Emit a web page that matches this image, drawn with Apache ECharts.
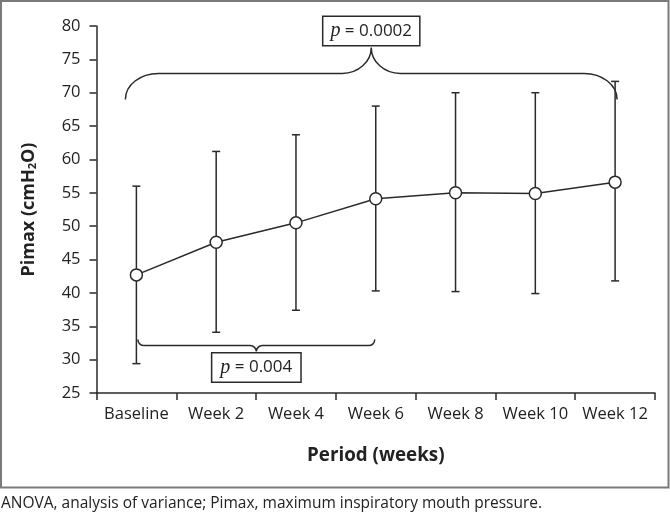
<!DOCTYPE html>
<html>
<head>
<meta charset="utf-8">
<script src="https://cdn.jsdelivr.net/npm/echarts@6/dist/echarts.min.js"></script>
<style>
html,body{margin:0;padding:0;background:#fff;}
#chart{width:670px;height:517px;}
</style>
</head>
<body>
<div id="chart"></div>
<script>
// ---- data ----
const categories = ['Baseline', 'Week 2', 'Week 4', 'Week 6', 'Week 8', 'Week 10', 'Week 12'];
const meanPimax = [42.7, 47.6, 50.5, 54.1, 55.0, 54.9, 56.6];
const upperPimax = [56.0, 61.2, 63.7, 68.0, 70.0, 70.0, 71.7];
const lowerPimax = [29.4, 34.1, 37.4, 40.3, 40.2, 39.9, 41.8];
const yTicks = [25, 30, 35, 40, 45, 50, 55, 60, 65, 70, 75, 80];
// brackets: category span, level (value at brace tips), p-value text
const braceFrom = [0, 0];
const braceTo = [6, 3];
const braceLevel = [69, 33];
const bracePValue = ['0.0002', '0.004'];
const caption = 'ANOVA, analysis of variance; Pimax, maximum inspiratory mouth pressure.';

const INK = '#2a2a2a';
const FONT = '"Open Sans", sans-serif';

const errData = categories.map((c, i) => [i, lowerPimax[i], upperPimax[i]]);
const braceData = braceFrom.map((f, i) => [f, braceTo[i], braceLevel[i]]);

const chart = echarts.init(document.getElementById('chart'));

function bracePath(xL, xR, y0, dir, h1, h2, rxEnd, rxMid) {
  const k = 0.5523;
  const yh = y0 + dir * h1;
  const yc = yh + dir * h2;
  const xm = (xL + xR) / 2;
  let p = '';
  p += 'M' + xL + ',' + y0;
  p += ' C' + xL + ',' + (y0 + dir * h1 * k) + ' ' + (xL + rxEnd * (1 - k)) + ',' + yh + ' ' + (xL + rxEnd) + ',' + yh;
  p += ' L' + (xm - rxMid) + ',' + yh;
  p += ' C' + (xm - rxMid * (1 - k)) + ',' + yh + ' ' + xm + ',' + (yh + dir * h2 * (1 - k)) + ' ' + xm + ',' + yc;
  p += ' M' + xm + ',' + yc;
  p += ' C' + xm + ',' + (yh + dir * h2 * (1 - k)) + ' ' + (xm + rxMid * (1 - k)) + ',' + yh + ' ' + (xm + rxMid) + ',' + yh;
  p += ' L' + (xR - rxEnd) + ',' + yh;
  p += ' C' + (xR - rxEnd * (1 - k)) + ',' + yh + ' ' + xR + ',' + (y0 + dir * h1 * k) + ' ' + xR + ',' + y0;
  return p;
}

const option = {
  animation: false,
  backgroundColor: '#fff',
  grid: { left: 96.5, right: 15, top: 26, bottom: 124, containLabel: false },
  xAxis: {
    type: 'category',
    data: categories,
    boundaryGap: true,
    axisLine: { lineStyle: { color: INK, width: 1.5 } },
    axisTick: { show: true, length: 7, interval: 0, lineStyle: { color: INK, width: 1.5 } },
    axisLabel: { color: '#222', fontSize: 16.5, fontFamily: FONT, margin: 13, interval: 0 },
    name: 'Period (weeks)',
    nameLocation: 'middle',
    nameGap: 53,
    nameTextStyle: { color: '#222', fontSize: 18.8, fontWeight: 'bold', fontFamily: FONT }
  },
  yAxis: {
    type: 'value',
    min: yTicks[0],
    max: yTicks[yTicks.length - 1],
    interval: yTicks[1] - yTicks[0],
    splitLine: { show: false },
    axisLine: { show: true, lineStyle: { color: INK, width: 1.5 } },
    axisTick: { show: true, length: 7, lineStyle: { color: INK, width: 1.5 } },
    axisLabel: { color: '#222', fontSize: 16.5, fontFamily: FONT, margin: 16 },
    name: '{b|Pimax (cmH}{s|2}{b|O)}',
    nameLocation: 'middle',
    nameRotate: 90,
    nameGap: 58,
    nameTextStyle: {
      color: '#222', fontFamily: FONT,
      rich: {
        b: { fontSize: 18, fontWeight: 'bold', fontFamily: FONT, color: '#222' },
        s: { fontSize: 11, fontWeight: 'bold', fontFamily: FONT, color: '#222', padding: [9, 0, 0, 0] }
      }
    }
  },
  series: [
    {
      name: 'SD',
      type: 'custom',
      z: 2,
      data: errData,
      encode: { x: 0, y: [1, 2] },
      renderItem: function (params, api) {
        const x = api.coord([api.value(0), api.value(1)])[0];
        const yLo = api.coord([api.value(0), api.value(1)])[1];
        const yHi = api.coord([api.value(0), api.value(2)])[1];
        const cw = 4;
        const st = { stroke: INK, lineWidth: 1.5, fill: 'none' };
        return {
          type: 'group',
          children: [
            { type: 'line', shape: { x1: x, y1: yLo, x2: x, y2: yHi }, style: st },
            { type: 'line', shape: { x1: x - cw, y1: yLo, x2: x + cw, y2: yLo }, style: st },
            { type: 'line', shape: { x1: x - cw, y1: yHi, x2: x + cw, y2: yHi }, style: st }
          ]
        };
      }
    },
    {
      name: 'Pimax',
      type: 'line',
      z: 3,
      data: meanPimax,
      symbol: 'circle',
      symbolSize: 12,
      itemStyle: { color: '#fff', borderColor: INK, borderWidth: 1.5 },
      lineStyle: { color: INK, width: 1.5 }
    },
    {
      name: 'Brackets',
      type: 'custom',
      z: 4,
      data: braceData,
      encode: { x: [0, 1], y: 2 },
      clip: false,
      renderItem: function (params, api) {
        const i = params.dataIndex;
        const pL = api.coord([api.value(0), api.value(2)]);
        const pR = api.coord([api.value(1), api.value(2)]);
        const top = i === 0;
        let xL, xR, y0, dir, h1, h2, rxE, rxM;
        if (top) {
          xL = pL[0] - 11; xR = pR[0] + 2; y0 = pL[1];
          dir = -1; h1 = 26; h2 = 26; rxE = 33; rxM = 29;
        } else {
          xL = pL[0] + 1.5; xR = pR[0] - 1; y0 = pL[1];
          dir = 1; h1 = 6; h2 = 6; rxE = 6; rxM = 6;
        }
        const xm = (xL + xR) / 2;
        const yc = y0 + dir * (h1 + h2);
        const boxH = top ? 29 : 28;
        const boxCy = top ? yc - 2 - boxH / 2 : yc + 2 + boxH / 2;
        return {
          type: 'group',
          children: [
            {
              type: 'path',
              shape: { pathData: bracePath(xL, xR, y0, dir, h1, h2, rxE, rxM) },
              style: { stroke: INK, lineWidth: 1.5, fill: 'none' }
            },
            {
              type: 'text',
              style: {
                x: xm, y: boxCy,
                text: '{p|p}{t| = ' + bracePValue[i] + '}',
                align: 'center', verticalAlign: 'middle',
                backgroundColor: '#fff',
                borderColor: INK, borderWidth: 1.5,
                padding: top ? [4, 7, 4, 7] : [4, 8, 4, 8],
                rich: {
                  p: { fontFamily: '"Liberation Serif", serif', fontStyle: 'italic', fontSize: 20, fill: '#222', lineHeight: 20 },
                  t: { fontFamily: FONT, fontSize: 17, fill: '#222', lineHeight: 20 }
                }
              }
            }
          ]
        };
      }
    }
  ],
  graphic: [
    {
      type: 'rect',
      shape: { x: 1, y: 1, width: 667.5, height: 486.5 },
      style: { fill: 'none', stroke: '#7a7a7a', lineWidth: 2 },
      z: -10
    },
    {
      type: 'text',
      left: 1,
      top: 496,
      style: { text: caption, fontSize: 15.5, fontFamily: FONT, fill: '#222' }
    }
  ]
};

chart.setOption(option);
</script>
</body>
</html>
